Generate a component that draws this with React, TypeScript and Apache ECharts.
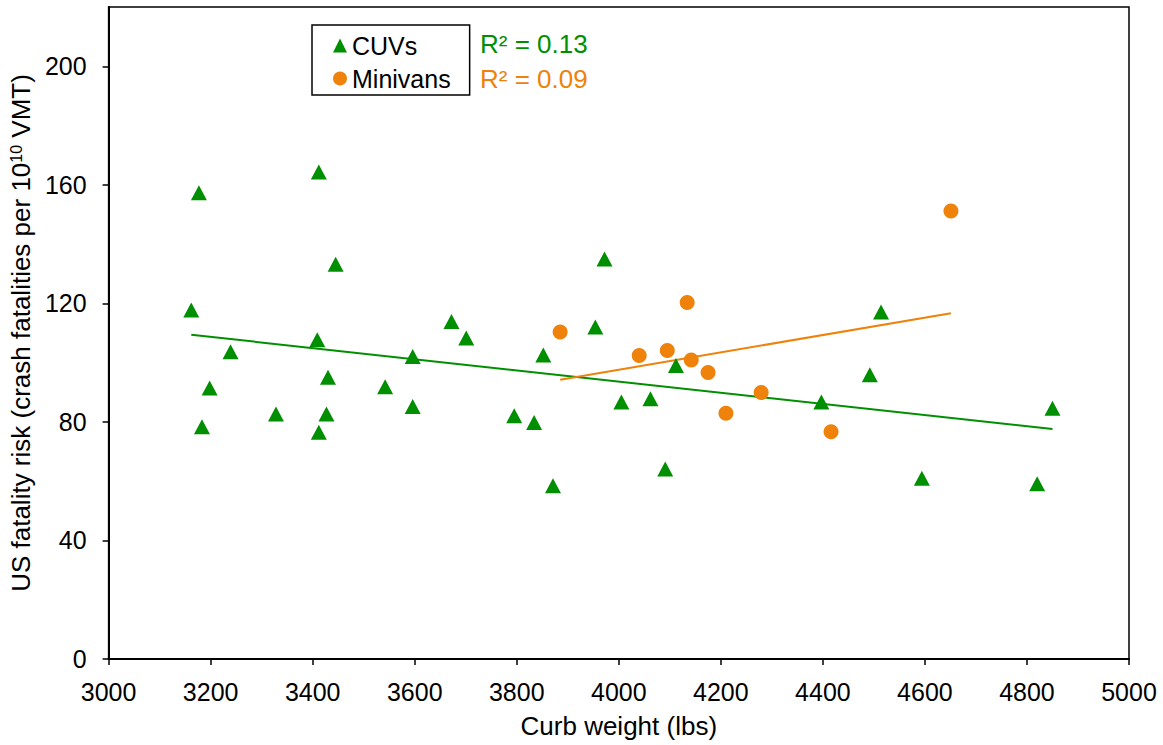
import React, { useEffect, useRef } from "react";
import * as echarts from "echarts";

const cuvWeight = [3162, 3177, 3183, 3198, 3239, 3328, 3412, 3409, 3412, 3427, 3430, 3445, 3542, 3596, 3596, 3672, 3701, 3972, 3954, 3852, 4112, 4005, 4062, 3795, 3834, 3871, 4091, 4397, 4492, 4514, 4594, 4820, 4850];
const cuvRisk = [117.8, 157.3, 78.4, 91.4, 103.7, 82.7, 164.3, 107.7, 76.5, 82.7, 95.1, 133.2, 91.9, 102.1, 85.2, 113.9, 108.3, 135.0, 112.0, 102.6, 99.0, 86.7, 87.8, 82.1, 79.8, 58.5, 64.1, 86.7, 95.9, 117.1, 61.0, 59.1, 84.6];

const minivanWeight = [3885, 4040, 4095, 4134, 4142, 4175, 4210, 4279, 4416, 4651];
const minivanRisk = [110.3, 102.4, 104.1, 120.3, 100.9, 96.7, 82.9, 89.9, 76.7, 151.2];

const cuvTrendWeight = [3162, 4850];
const cuvTrendRisk = [109.4, 77.6];
const minivanTrendWeight = [3885, 4651];
const minivanTrendRisk = [94.2, 116.7];

const xTicks = [3000, 5000];
const yTicks = [0, 40, 80, 120, 160, 200];
const r2Labels = ["R² = 0.13", "R² = 0.09"];

const GREEN = "#008F00";
const ORANGE = "#EE820A";
const FONT = "Liberation Sans, Arial, sans-serif";

export default function App() {
  const ref = useRef<HTMLDivElement>(null);
  useEffect(() => {
    if (!ref.current) return;
    const chart = echarts.init(ref.current, undefined, { renderer: "svg" });
    const zip = (a: number[], b: number[]) => a.map((v, i) => [v, b[i]]);
    chart.setOption({
      animation: false,
      textStyle: { fontFamily: FONT },
      grid: { left: 108, right: 34, top: 7, bottom: 86, show: true, borderColor: "#000", borderWidth: 1.5, backgroundColor: "transparent" },
      legend: {
        orient: "vertical",
        left: 312,
        top: 25,
        borderColor: "#000",
        borderWidth: 1.5,
        padding: [8, 19, 4, 21],
        itemGap: 8,
        itemWidth: 14,
        itemHeight: 14,
        itemStyle: { borderWidth: 0, opacity: 1 },
        textStyle: { fontSize: 25, color: "#000", fontFamily: FONT },
        data: [
          { name: "CUVs", icon: "triangle" },
          { name: "Minivans", icon: "circle" },
        ],
      },
      graphic: [
        { type: "text", left: 480, top: 31, style: { text: r2Labels[0], fill: GREEN, fontSize: 26, fontFamily: FONT } },
        { type: "text", left: 480, top: 66, style: { text: r2Labels[1], fill: ORANGE, fontSize: 26, fontFamily: FONT } },
      ],
      xAxis: {
        type: "value",
        min: xTicks[0],
        max: xTicks[1],
        interval: 200,
        name: "Curb weight (lbs)",
        nameLocation: "middle",
        nameGap: 54,
        nameTextStyle: { fontSize: 26, color: "#000", fontFamily: FONT },
        axisLine: { show: true, lineStyle: { color: "#000", width: 2 } },
        axisTick: { show: true, length: 6, lineStyle: { color: "#000", width: 1.5 } },
        axisLabel: { fontSize: 25, color: "#000", margin: 20, fontFamily: FONT, formatter: (v: number) => String(v) },
        splitLine: { show: false },
      },
      yAxis: {
        type: "value",
        min: 0,
        max: 220,
        interval: 40,
        name: "US fatality risk (crash fatalities per 10{sup|10} VMT)",
        nameLocation: "middle",
        nameGap: 68,
        nameTextStyle: {
          fontSize: 26,
          color: "#000",
          fontFamily: FONT,
          rich: { sup: { fontSize: 16, color: "#000", fontFamily: FONT, verticalAlign: "top", padding: [0, 0, 10, 0] } },
        },
        axisLine: { show: true, lineStyle: { color: "#000", width: 2 } },
        axisTick: { show: true, length: 6, customValues: yTicks, lineStyle: { color: "#000", width: 1.5 } },
        axisLabel: { fontSize: 25, color: "#000", margin: 22, customValues: yTicks, fontFamily: FONT },
        splitLine: { show: false },
      },
      series: [
        {
          name: "CUVs",
          type: "scatter",
          symbol: "triangle",
          symbolSize: [16, 15],
          itemStyle: { color: GREEN, opacity: 1 },
          data: zip(cuvWeight, cuvRisk),
          z: 3,
        },
        {
          name: "Minivans",
          type: "scatter",
          symbol: "circle",
          symbolSize: 15,
          itemStyle: { color: ORANGE, opacity: 1 },
          data: zip(minivanWeight, minivanRisk),
          z: 3,
        },
        {
          name: "CUV trend",
          type: "line",
          showSymbol: false,
          symbol: "none",
          lineStyle: { color: GREEN, width: 2 },
          data: zip(cuvTrendWeight, cuvTrendRisk),
          z: 2,
        },
        {
          name: "Minivan trend",
          type: "line",
          showSymbol: false,
          symbol: "none",
          lineStyle: { color: ORANGE, width: 2 },
          data: zip(minivanTrendWeight, minivanTrendRisk),
          z: 2,
        },
      ],
    });
    return () => chart.dispose();
  }, []);
  return <div ref={ref} style={{ position: "fixed", left: 0, top: 0, width: 1163, height: 745, background: "#fff" }} />;
}
